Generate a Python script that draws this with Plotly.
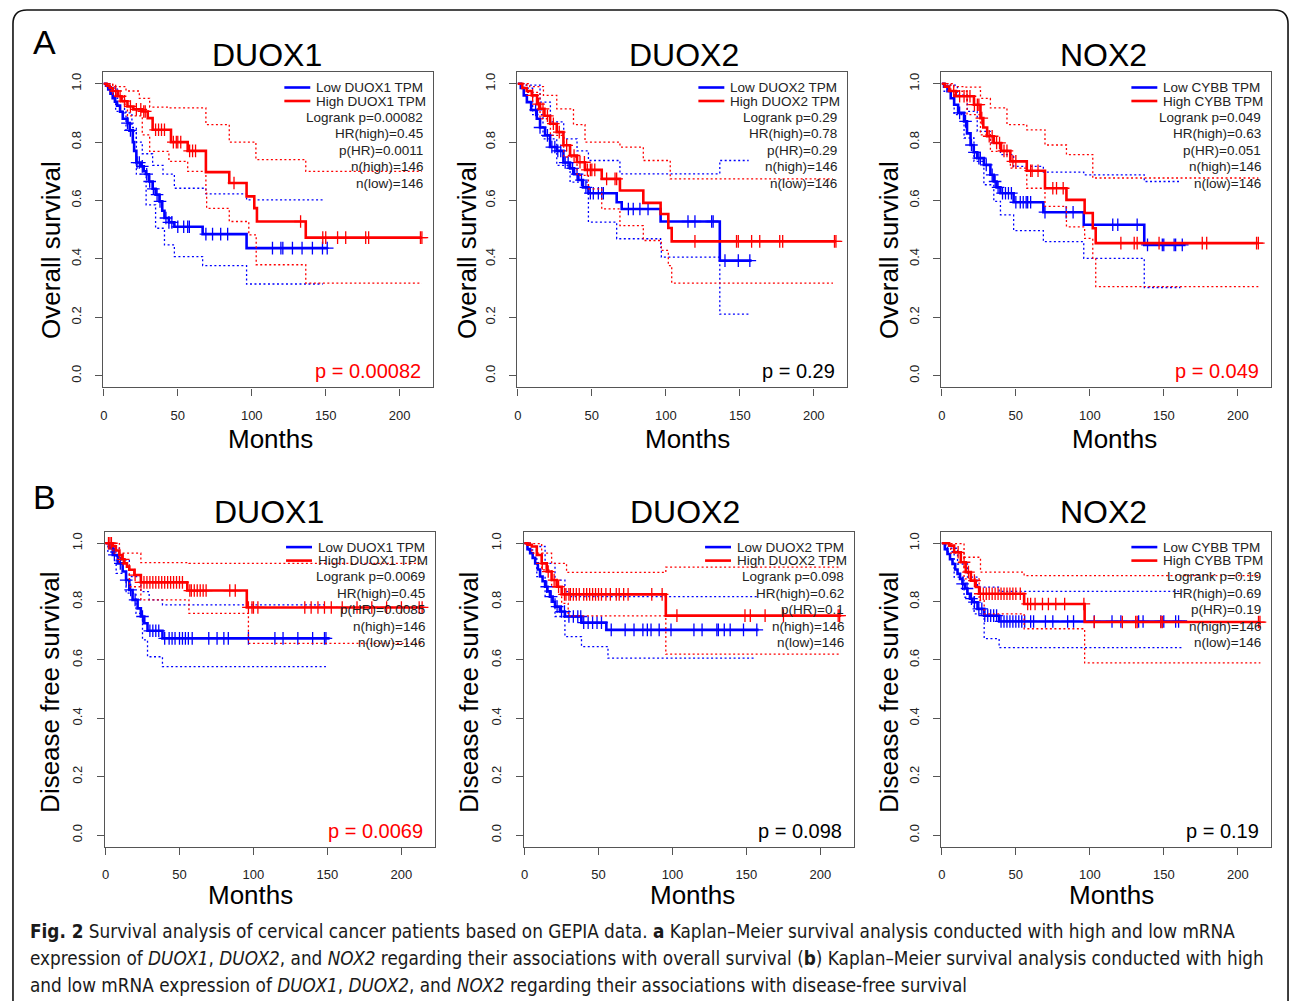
import plotly.graph_objects as go

W, H = 1296, 1001

# ---------------- DATA (months, survival) ----------------
# Overall survival - DUOX1
OS_DUOX1_low = [(0,1.0),(1.5,0.993),(3,0.98),(4.5,0.966),(6,0.95),(7.5,0.938),(9,0.925),(11,0.904),(12.8,0.88),(16,0.865),(17.5,0.84),(19.6,0.80),(20.5,0.77),(22,0.73),(25,0.717),(27,0.70),(28.6,0.69),(30.5,0.665),(33,0.64),(35,0.62),(37.6,0.597),(39.5,0.565),(41,0.54),(44,0.525),(47.7,0.51),(66.8,0.485),(96.5,0.437),(151,0.437)]
OS_DUOX1_low_cens = [16,18,22.5,24,26,29,31,33.5,36,38,42,44,46,50,54,56.7,57.8,69,73.5,79,83.7,114,119.7,121,127.5,134,141,147.8,151]
OS_DUOX1_low_up = [(0,1.0),(4,0.99),(9,0.95),(14,0.90),(19,0.85),(22,0.80),(26,0.76),(33,0.72),(40,0.69),(47.7,0.642),(69,0.623),(96.5,0.602),(149,0.602)]
OS_DUOX1_low_lo = [(0,1.0),(2,0.985),(8,0.905),(15,0.837),(22,0.69),(28.6,0.585),(35,0.505),(41,0.448),(47.7,0.408),(66.8,0.377),(96.5,0.314),(148,0.314)]
OS_DUOX1_high = [(0,1.0),(2,0.993),(4,0.985),(6,0.975),(9.4,0.957),(12,0.94),(16,0.922),(20,0.912),(26,0.905),(29.7,0.882),(33,0.842),(45.4,0.80),(56.7,0.77),(69,0.697),(84.8,0.66),(96.5,0.614),(101.7,0.574),(103.5,0.528),(136.5,0.473),(215,0.473)]
OS_DUOX1_high_cens = [8,11,14,18,22,25,27,28,35,37,39,41,47,49,50,52,58,60,62,88,133,148,150,158,163.5,177,179,214,215]
OS_DUOX1_high_up = [(0,1.0),(6,0.99),(15,0.975),(24,0.95),(31,0.92),(44,0.917),(69,0.86),(84.8,0.80),(102.8,0.74),(136.5,0.70),(215,0.70)]
OS_DUOX1_high_lo = [(0,1.0),(6,0.96),(13,0.93),(16,0.89),(26,0.825),(31,0.768),(44,0.734),(56.7,0.70),(69,0.625),(69.5,0.573),(84.8,0.528),(98,0.482),(103,0.38),(136.5,0.317),(215,0.317)]

# Overall survival - DUOX2
OS_DUOX2_low = [(0,1.0),(2,0.985),(4,0.96),(6.1,0.937),(9,0.91),(12.8,0.88),(15,0.85),(18.4,0.823),(21.8,0.783),(26.3,0.77),(30.8,0.73),(35.3,0.71),(38,0.69),(40.9,0.67),(44,0.645),(47.7,0.625),(66.8,0.594),(70.2,0.571),(96.5,0.528),(136.5,0.394),(158,0.394)]
OS_DUOX2_low_cens = [12,15,20,23,25,27,29,32,34,37,40,43,46,49,51,54.4,56.7,57.8,74.7,78,82.5,88,115,119.7,131,132,140,149,156.8]
OS_DUOX2_low_up = [(0,1.0),(4,0.995),(15,0.937),(22,0.869),(31,0.811),(40,0.77),(47.7,0.737),(69,0.691),(96.5,0.691),(136.5,0.737),(156,0.737)]
OS_DUOX2_low_lo = [(0,1.0),(2,0.985),(10,0.894),(17,0.811),(26.3,0.72),(35.3,0.663),(47.7,0.526),(66.8,0.469),(96.5,0.44),(97,0.406),(136.5,0.211),(156,0.211)]
OS_DUOX2_high = [(0,1.0),(3,0.985),(6,0.975),(9.4,0.96),(13,0.93),(15,0.914),(18,0.89),(21.8,0.863),(26.3,0.834),(30.8,0.789),(35.3,0.754),(40,0.731),(45.4,0.705),(56.7,0.674),(69,0.634),(84.8,0.592),(96.5,0.554),(101.7,0.506),(104,0.46),(215,0.46)]
OS_DUOX2_high_cens = [10,14,17,20,24,28,33,38,42,45,47,49,50,52,60,65.7,66.8,119.7,147.8,149,158,163.5,177,179,214,215]
OS_DUOX2_high_up = [(0,1.0),(8,0.99),(17.3,0.96),(26.3,0.914),(37.6,0.86),(45.4,0.80),(69,0.783),(84.8,0.737),(103,0.674),(213,0.674)]
OS_DUOX2_high_lo = [(0,1.0),(6,0.97),(15,0.88),(22,0.823),(31,0.749),(40,0.686),(47.7,0.64),(56.7,0.571),(69,0.514),(84.8,0.463),(97,0.429),(101.7,0.377),(104,0.317),(213,0.317)]

# Overall survival - NOX2 (CYBB)
OS_NOX2_low = [(0,1.0),(1.5,0.99),(3.8,0.974),(6,0.95),(8.3,0.928),(11,0.90),(15,0.871),(17,0.83),(19.4,0.79),(21.5,0.765),(23.9,0.745),(28.4,0.722),(32.8,0.688),(35.1,0.665),(37,0.645),(39.6,0.625),(48.5,0.594),(68.6,0.56),(95.9,0.517),(136.8,0.448),(164.7,0.448)]
OS_NOX2_low_cens = [12,16,20,22,25,26,30,34,36,38,41,43,45,47,50,53,55,57,58,60,69.7,84,88.7,115.5,118.9,132,139,149,150,157,158,162.5]
OS_NOX2_low_up = [(0,1.0),(3.8,0.995),(10.5,0.961),(17.2,0.905),(23.9,0.837),(32.8,0.797),(39.6,0.757),(48.5,0.717),(68.6,0.697),(95.9,0.688),(136.8,0.665),(161.3,0.665)]
OS_NOX2_low_lo = [(0,1.0),(1.5,0.974),(8.3,0.894),(15,0.814),(21.7,0.734),(28.4,0.654),(35.1,0.597),(39.6,0.551),(48.5,0.497),(68.6,0.459),(95.9,0.402),(136.8,0.302),(161.3,0.302)]
OS_NOX2_high = [(0,1.0),(2,0.99),(5,0.975),(9.4,0.957),(21.7,0.928),(26.1,0.882),(28,0.85),(30.6,0.82),(35.1,0.797),(40,0.77),(46.3,0.734),(57.4,0.702),(69.7,0.642),(84.2,0.602),(96.5,0.557),(102,0.505),(104,0.454),(213.9,0.454)]
OS_NOX2_high_cens = [8,12,15,17,19,22,24,25,27,32,34,37,39,42,44,48,50,60,61,65,75,77.5,82,121,130,132,146.8,176,179,212.7,213.9]
OS_NOX2_high_up = [(0,1.0),(8,0.99),(15,0.988),(26.1,0.95),(32.8,0.917),(44,0.86),(57.4,0.842),(69.7,0.79),(84.2,0.757),(102,0.677),(213.9,0.677)]
OS_NOX2_high_lo = [(0,1.0),(6,0.974),(17,0.894),(26.1,0.825),(32.8,0.768),(46.3,0.711),(57.4,0.642),(69.7,0.58),(84.2,0.51),(96.5,0.47),(102,0.40),(104,0.305),(213.9,0.305)]

# Disease free survival - DUOX1
DFS_DUOX1_low = [(0,1.0),(2.7,0.983),(4.9,0.96),(8.3,0.931),(11.6,0.903),(13.9,0.874),(16.1,0.84),(18.3,0.806),(21.7,0.777),(23.9,0.749),(26.2,0.726),(28.4,0.70),(38.5,0.674),(151.5,0.674)]
DFS_DUOX1_low_cens = [6,10,14,17,20,25,30,32,34,36,40,43,45,47,50,52,54,56,58.6,69.8,75.4,80,83,96.6,114.5,120,130,140,148,149]
DFS_DUOX1_low_up = [(0,1.0),(3.8,0.983),(9.4,0.943),(16.1,0.886),(23.9,0.834),(29.5,0.806),(38.5,0.789),(149,0.789)]
DFS_DUOX1_low_lo = [(0,1.0),(1.6,0.97),(7.2,0.897),(13.9,0.829),(20.6,0.76),(25,0.669),(28.4,0.611),(38.5,0.577),(149,0.577)]
DFS_DUOX1_high = [(0,1.0),(5,0.99),(7,0.975),(9.4,0.96),(11,0.945),(12.8,0.931),(14.5,0.92),(16.1,0.909),(19.5,0.891),(23.9,0.866),(55.3,0.838),(95.5,0.78),(215,0.78)]
DFS_DUOX1_high_cens = [2,3,4,12,20,24,26,28,30,32,34,36,38,40,42,44,46,48,50,52,57,58,60,62,64,66,68,84,87.7,96.6,99,100,103,134.7,139,143.6,148,152.6,160,170,180,190,200,212,214]
DFS_DUOX1_high_up = [(0,1.0),(4,0.999),(9.4,0.966),(23.9,0.934),(56.4,0.931),(215,0.931)]
DFS_DUOX1_high_lo = [(0,1.0),(5,0.966),(9.4,0.931),(16.1,0.851),(23.9,0.806),(56.4,0.76),(96.6,0.657),(215,0.657)]

# Disease free survival - DUOX2
DFS_DUOX2_low = [(0,1.0),(2,0.98),(3.8,0.966),(5.5,0.95),(7.2,0.931),(9,0.91),(10.5,0.886),(12.2,0.87),(13.9,0.851),(15.5,0.835),(17.2,0.817),(19,0.80),(20.6,0.783),(23.9,0.766),(27.3,0.749),(38.5,0.728),(55.3,0.703),(158.2,0.703)]
DFS_DUOX2_low_cens = [15,18,22,25,27,30,33,36,38,40,43,46,49,52,58.6,68,74,80,83,85.5,91,99,114.5,120,130,131,135,139,148,157]
DFS_DUOX2_low_up = [(0,1.0),(4.9,0.989),(13.9,0.931),(20.6,0.874),(27.3,0.834),(30.6,0.817),(157,0.817)]
DFS_DUOX2_low_lo = [(0,1.0),(2.7,0.977),(8.3,0.886),(13.9,0.817),(20.6,0.749),(27.3,0.68),(38.5,0.646),(56.4,0.606),(155,0.606)]
DFS_DUOX2_high = [(0,1.0),(2,0.995),(4.9,0.989),(8.3,0.96),(11.6,0.931),(15,0.903),(18.3,0.874),(21.7,0.851),(25.1,0.825),(95.5,0.752),(214,0.752)]
DFS_DUOX2_high_cens = [12,16,20,23,27,28,30,31,33,35,37,40,42,44,46,48,50,52,55,58,62,64,67,70,86,93,103,149,152.6,162.6,175,212,213]
DFS_DUOX2_high_up = [(0,1.0),(4.9,0.999),(11.6,0.966),(18.3,0.931),(28.4,0.90),(95.5,0.918),(214,0.918)]
DFS_DUOX2_high_lo = [(0,1.0),(4.9,0.966),(11.6,0.909),(18.3,0.851),(25.1,0.794),(29.5,0.751),(95.5,0.62),(214,0.62)]

# Disease free survival - NOX2 (CYBB)
DFS_NOX2_low = [(0,1.0),(2,0.98),(3.8,0.963),(5.5,0.945),(7.2,0.929),(9,0.91),(10.6,0.895),(12.3,0.878),(13.9,0.861),(15.6,0.845),(17.3,0.827),(19,0.81),(20.7,0.798),(24.1,0.775),(28.6,0.752),(38.7,0.732),(165.8,0.732)]
DFS_NOX2_low_cens = [14,17,20,22,25,27,29,31,33,35,37,40,42,44,46,48,50,52,54,56,60,62,70,75,85,89,103,115,121,133,136,148,150,158,160]
DFS_NOX2_low_up = [(0,1.0),(3.8,0.983),(10.6,0.929),(17.3,0.884),(24.1,0.85),(38.7,0.835),(162.5,0.835)]
DFS_NOX2_low_lo = [(0,1.0),(2.7,0.971),(8.3,0.884),(15,0.815),(21.8,0.758),(28.6,0.673),(38.7,0.642),(162.5,0.642)]
DFS_NOX2_high = [(0,1.0),(4.9,0.992),(8.3,0.969),(12.8,0.935),(16.2,0.901),(19.6,0.872),(22.9,0.85),(25.2,0.827),(55.6,0.792),(96.5,0.73),(215.3,0.73)]
DFS_NOX2_high_cens = [11,15,18,22,26,28,30,32,34,36,38,40,42,44,46,48,50,53,58,60,63,68,72,77,83,96,103,122,131,132,148,149,214,215]
DFS_NOX2_high_up = [(0,1.0),(6,0.999),(15,0.952),(26.1,0.901),(55.6,0.889),(215.3,0.889)]
DFS_NOX2_high_lo = [(0,1.0),(6,0.966),(15,0.878),(25.2,0.804),(28.6,0.758),(55.6,0.707),(96.5,0.59),(215.3,0.59)]

# Text content
GENES = ["DUOX1", "DUOX2", "CYBB"]
TITLES = ["DUOX1", "DUOX2", "NOX2"]
OS_STATS = [["Logrank p=0.00082", "HR(high)=0.45", "p(HR)=0.0011", "n(high)=146", "n(low)=146"],
            ["Logrank p=0.29", "HR(high)=0.78", "p(HR)=0.29", "n(high)=146", "n(low)=146"],
            ["Logrank p=0.049", "HR(high)=0.63", "p(HR)=0.051", "n(high)=146", "n(low)=146"]]
DFS_STATS = [["Logrank p=0.0069", "HR(high)=0.45", "p(HR)=0.0085", "n(high)=146", "n(low)=146"],
             ["Logrank p=0.098", "HR(high)=0.62", "p(HR)=0.1", "n(high)=146", "n(low)=146"],
             ["Logrank p=0.19", "HR(high)=0.69", "p(HR)=0.19", "n(high)=146", "n(low)=146"]]
OS_P = ["p = 0.00082", "p = 0.29", "p = 0.049"]
DFS_P = ["p = 0.0069", "p = 0.098", "p = 0.19"]
OS_P_SIG = [True, False, True]
DFS_P_SIG = [True, False, False]
X_TICKS = [0, 50, 100, 150, 200]
Y_TICKS = [0.0, 0.2, 0.4, 0.6, 0.8, 1.0]
CAPTION = [
    "<b>Fig. 2</b> Survival analysis of cervical cancer patients based on GEPIA data. <b>a</b> Kaplan\u2013Meier survival analysis conducted with high and low mRNA",
    "expression of <i>DUOX1</i>, <i>DUOX2</i>, and <i>NOX2</i> regarding their associations with overall survival (<b>b</b>) Kaplan\u2013Meier survival analysis conducted with high",
    "and low mRNA expression of <i>DUOX1</i>, <i>DUOX2</i>, and <i>NOX2</i> regarding their associations with disease-free survival",
]

OS = [
    (OS_DUOX1_low, OS_DUOX1_low_cens, OS_DUOX1_low_up, OS_DUOX1_low_lo, OS_DUOX1_high, OS_DUOX1_high_cens, OS_DUOX1_high_up, OS_DUOX1_high_lo),
    (OS_DUOX2_low, OS_DUOX2_low_cens, OS_DUOX2_low_up, OS_DUOX2_low_lo, OS_DUOX2_high, OS_DUOX2_high_cens, OS_DUOX2_high_up, OS_DUOX2_high_lo),
    (OS_NOX2_low, OS_NOX2_low_cens, OS_NOX2_low_up, OS_NOX2_low_lo, OS_NOX2_high, OS_NOX2_high_cens, OS_NOX2_high_up, OS_NOX2_high_lo),
]
DFS = [
    (DFS_DUOX1_low, DFS_DUOX1_low_cens, DFS_DUOX1_low_up, DFS_DUOX1_low_lo, DFS_DUOX1_high, DFS_DUOX1_high_cens, DFS_DUOX1_high_up, DFS_DUOX1_high_lo),
    (DFS_DUOX2_low, DFS_DUOX2_low_cens, DFS_DUOX2_low_up, DFS_DUOX2_low_lo, DFS_DUOX2_high, DFS_DUOX2_high_cens, DFS_DUOX2_high_up, DFS_DUOX2_high_lo),
    (DFS_NOX2_low, DFS_NOX2_low_cens, DFS_NOX2_low_up, DFS_NOX2_low_lo, DFS_NOX2_high, DFS_NOX2_high_cens, DFS_NOX2_high_up, DFS_NOX2_high_lo),
]

# ---------------- LAYOUT (pixel geometry) ----------------
FONT = "Liberation Sans, Arial, sans-serif"
BLUE, RED = "#0000FF", "#FF0000"
X_RANGE = [-0.5, 222.5]
Y_RANGE = [-0.04, 1.04]

# plot boxes (left, top, right, bottom) in pixels
BOXES = [
    (100.3, 72.0, 431.0, 387.4), (515.3, 72.0, 846.0, 387.4), (940.3, 72.0, 1271.0, 387.4),
    (102.0, 531.6, 432.7, 846.7), (522.0, 531.6, 852.7, 846.7), (940.3, 531.6, 1271.0, 846.7),
]
TITLE_POS = [(265, 55), (683, 55), (1103, 55), (267, 512), (684, 512), (1103, 512)]
YTITLE_POS = [(48, 250), (465, 250), (888, 250), (47, 692), (467, 692), (888, 692)]
MONTHS_POS = [(268, 439), (686, 439), (1114, 439), (248, 895), (691, 895), (1111, 895)]


def fx(px):
    return px / W


def fy(py):
    return 1 - py / H


def step_value(curve, t):
    v = curve[0][1]
    for ct, cs in curve:
        if ct <= t:
            v = cs
        else:
            break
    return v


fig = go.Figure()
annotations = []
shapes = []

for i in range(6):
    row = i // 3
    col = i % 3
    data = OS[col] if row == 0 else DFS[col]
    stats = OS_STATS[col] if row == 0 else DFS_STATS[col]
    ptxt = OS_P[col] if row == 0 else DFS_P[col]
    psig = OS_P_SIG[col] if row == 0 else DFS_P_SIG[col]
    L, T, R, B = BOXES[i]
    n = i + 1
    xa = "x" if n == 1 else f"x{n}"
    ya = "y" if n == 1 else f"y{n}"
    low, low_c, low_up, low_lo, high, high_c, high_up, high_lo = data

    for curve, cens, up, lo, color in ((low, low_c, low_up, low_lo, BLUE), (high, high_c, high_up, high_lo, RED)):
        for ci in (up, lo):
            fig.add_trace(go.Scatter(x=[p[0] for p in ci], y=[p[1] for p in ci], mode="lines",
                                     line=dict(color=color, width=1.3, dash="2px,2.5px", shape="hv"),
                                     xaxis=xa, yaxis=ya, showlegend=False, hoverinfo="skip"))
        fig.add_trace(go.Scatter(x=[p[0] for p in curve], y=[p[1] for p in curve], mode="lines",
                                 line=dict(color=color, width=2.6, shape="hv"),
                                 xaxis=xa, yaxis=ya, showlegend=False))
        fig.add_trace(go.Scatter(x=cens, y=[step_value(curve, c) for c in cens], mode="markers",
                                 marker=dict(symbol="cross-thin", size=9, line=dict(color=color, width=1.3)),
                                 xaxis=xa, yaxis=ya, showlegend=False))

    axis_common = dict(showline=True, mirror=True, linecolor="#555", linewidth=1.3, ticks="outside",
                       ticklen=7, tickwidth=1.2, tickcolor="#555", showgrid=False, zeroline=False,
                       tickfont=dict(family=FONT, size=13, color="#222"), ticklabelstandoff=9)
    fig.layout[("xaxis" if n == 1 else f"xaxis{n}")] = dict(
        domain=[fx(L), fx(R)], anchor=ya, range=X_RANGE, tickvals=X_TICKS, **axis_common)
    fig.layout[("yaxis" if n == 1 else f"yaxis{n}")] = dict(
        domain=[fy(B), fy(T)], anchor=xa, range=Y_RANGE, tickvals=Y_TICKS, tickformat=".1f",
        tickangle=-90, **axis_common)

    # titles
    tx, ty = TITLE_POS[i]
    annotations.append(dict(x=fx(tx), y=fy(ty), xref="paper", yref="paper", text=TITLES[col], showarrow=False,
                            font=dict(family=FONT, size=32, color="#000"), xanchor="center", yanchor="middle"))
    yx, yy = YTITLE_POS[i]
    annotations.append(dict(x=fx(yx), y=fy(yy), xref="paper", yref="paper",
                            text="Overall survival" if row == 0 else "Disease free survival", textangle=-90,
                            showarrow=False, font=dict(family=FONT, size=26, color="#000"),
                            xanchor="center", yanchor="middle"))
    mx, my = MONTHS_POS[i]
    annotations.append(dict(x=fx(mx), y=fy(my), xref="paper", yref="paper", text="Months", showarrow=False,
                            font=dict(family=FONT, size=26, color="#000"), xanchor="center", yanchor="middle"))

    # legend
    cybb = GENES[col] == "CYBB"
    l0, l1 = (R - 140, R - 114) if cybb else (R - 149, R - 123)
    for k, (lab, color) in enumerate(((f"Low {GENES[col]} TPM", BLUE), (f"High {GENES[col]} TPM", RED))):
        yy_ = T + 15.5 + 13.5 * k
        shapes.append(dict(type="line", xref="paper", yref="paper", x0=fx(l0), x1=fx(l1), y0=fy(yy_), y1=fy(yy_),
                           line=dict(color=color, width=2.6)))
        annotations.append(dict(x=fx(l1 + 4), y=fy(yy_), xref="paper", yref="paper", text=lab, showarrow=False,
                                font=dict(family=FONT, size=13.5, color="#222"), xanchor="left", yanchor="middle"))
    for k, s in enumerate(stats):
        annotations.append(dict(x=fx(R - 8), y=fy(T + 45 + 16.5 * k), xref="paper", yref="paper", text=s,
                                showarrow=False, font=dict(family=FONT, size=13.5, color="#222"),
                                xanchor="right", yanchor="middle"))
    annotations.append(dict(x=fx(R - 10), y=fy(B - 16), xref="paper", yref="paper", text=ptxt, showarrow=False,
                            font=dict(family=FONT, size=20, color=RED if psig else "#000"),
                            xanchor="right", yanchor="middle"))

# panel letters
annotations.append(dict(x=fx(42), y=fy(42), xref="paper", yref="paper", text="A", showarrow=False,
                        font=dict(family=FONT, size=34, color="#000"), xanchor="center", yanchor="middle"))
annotations.append(dict(x=fx(42), y=fy(497), xref="paper", yref="paper", text="B", showarrow=False,
                        font=dict(family=FONT, size=34, color="#000"), xanchor="center", yanchor="middle"))

# caption
for k, line in enumerate(CAPTION):
    annotations.append(dict(x=fx(25), y=fy(931 + 27 * k), xref="paper", yref="paper", text=line, showarrow=False,
                            font=dict(family="Liberation Sans Narrow, DejaVu Sans Condensed, Roboto, sans-serif",
                                      size=18.8, color="#1a1a1a"),
                            xanchor="left", yanchor="middle", align="left"))

# rounded border
r = 14
x0, y0, x1, y1 = 10, 10, 1288, 1020
path = (f"M {fx(x0 + r)} {fy(y0)} L {fx(x1 - r)} {fy(y0)} Q {fx(x1)} {fy(y0)} {fx(x1)} {fy(y0 + r)} "
        f"L {fx(x1)} {fy(y1 - r)} Q {fx(x1)} {fy(y1)} {fx(x1 - r)} {fy(y1)} "
        f"L {fx(x0 + r)} {fy(y1)} Q {fx(x0)} {fy(y1)} {fx(x0)} {fy(y1 - r)} "
        f"L {fx(x0)} {fy(y0 + r)} Q {fx(x0)} {fy(y0)} {fx(x0 + r)} {fy(y0)} Z")
shapes.append(dict(type="path", xref="paper", yref="paper", path=path, line=dict(color="#111", width=1.6)))

fig.update_layout(width=W, height=H, margin=dict(l=0, r=0, t=0, b=0), paper_bgcolor="white",
                  plot_bgcolor="white", showlegend=False, annotations=annotations, shapes=shapes)

fig.write_html("out.html", config={"displayModeBar": False},
               post_script="document.body.style.margin='0';document.body.style.overflow='hidden';")
